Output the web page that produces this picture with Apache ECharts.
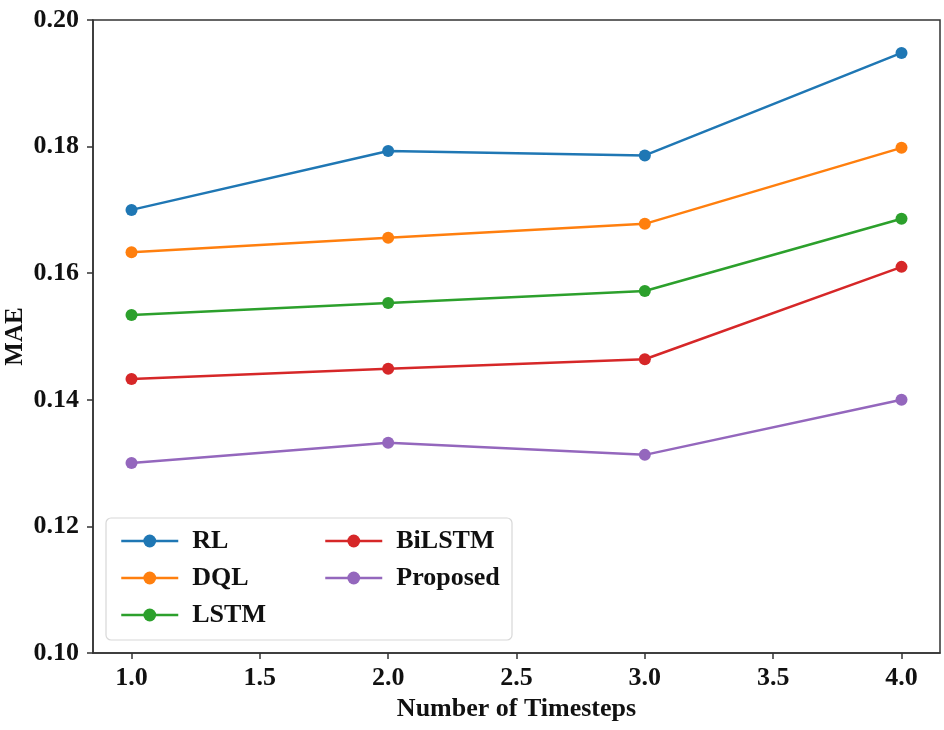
<!DOCTYPE html>
<html>
<head>
<meta charset="utf-8">
<script src="https://cdn.jsdelivr.net/npm/echarts@6/dist/echarts.min.js"></script>
<style>
html,body{margin:0;padding:0;background:#fff;}
#chart{width:944px;height:730px;}
</style>
</head>
<body>
<div id="chart"></div>
<script>
const timesteps = [1.0, 2.0, 3.0, 4.0];
const seriesNames = ['RL', 'DQL', 'LSTM', 'BiLSTM', 'Proposed'];
const rlValues = [0.1700, 0.1793, 0.1786, 0.1948];
const dqlValues = [0.1633, 0.1656, 0.1678, 0.1798];
const lstmValues = [0.1534, 0.1553, 0.1572, 0.1686];
const bilstmValues = [0.1433, 0.1449, 0.1464, 0.1610];
const proposedValues = [0.1300, 0.1332, 0.1313, 0.1400];
const xTickValues = [1.0, 1.5, 2.0, 2.5, 3.0, 3.5, 4.0];

const colors = ['#1f77b4', '#ff7f0e', '#2ca02c', '#d62728', '#9467bd'];
const allValues = [rlValues, dqlValues, lstmValues, bilstmValues, proposedValues];
const font = '"Liberation Serif", "Times New Roman", serif';

const chart = echarts.init(document.getElementById('chart'), null, {renderer: 'canvas'});

const series = seriesNames.map((name, i) => ({
  name: name,
  type: 'line',
  data: timesteps.map((t, j) => [t, allValues[i][j]]),
  symbol: 'circle',
  symbolSize: 12,
  lineStyle: {width: 2.5, color: colors[i]},
  itemStyle: {color: colors[i]},
  emphasis: {disabled: true},
  z: 3
}));

const legendCommon = {
  orient: 'vertical',
  itemWidth: 57,
  itemHeight: 16,
  itemGap: 11,
  lineStyle: {width: 2.5},
  textStyle: {fontFamily: font, fontWeight: 'bold', fontSize: 26, color: '#111', padding: [0, 0, 0, 9]},
  selectedMode: false
};

const option = {
  backgroundColor: '#fff',
  animation: false,
  color: colors,
  grid: {
    left: 93, right: 4, top: 20, bottom: 77,
    outerBoundsMode: 'none',
    containLabel: false,
    show: true, borderColor: '#333', borderWidth: 1.5, backgroundColor: 'transparent'
  },
  graphic: [{
    type: 'rect',
    shape: {x: 106, y: 518, width: 406, height: 122, r: 5},
    style: {fill: 'rgba(255,255,255,0.85)', stroke: '#d8d8d8', lineWidth: 1.2},
    z: 100
  }],
  legend: [
    Object.assign({}, legendCommon, {data: ['RL', 'DQL', 'LSTM'], left: 115, top: 523, z: 101}),
    Object.assign({}, legendCommon, {data: ['BiLSTM', 'Proposed'], left: 319, top: 523, z: 101})
  ],
  xAxis: {
    type: 'value',
    min: 0.85, max: 4.15,
    name: 'Number of Timesteps',
    nameLocation: 'middle',
    nameGap: 43,
    nameMoveOverlap: false,
    nameTextStyle: {fontFamily: font, fontWeight: 'bold', fontSize: 26, color: '#111'},
    axisLine: {show: true, lineStyle: {color: '#333', width: 1.5}},
    axisTick: {show: true, length: 6, lineStyle: {color: '#333', width: 1.5}, customValues: xTickValues},
    axisLabel: {
      customValues: xTickValues,
      formatter: v => v.toFixed(1),
      fontFamily: font, fontWeight: 'bold', fontSize: 26, color: '#111', margin: 12
    },
    splitLine: {show: false}
  },
  yAxis: {
    type: 'value',
    min: 0.10, max: 0.20, interval: 0.02,
    name: 'MAE',
    nameLocation: 'middle',
    nameGap: 65,
    nameMoveOverlap: false,
    nameTextStyle: {fontFamily: font, fontWeight: 'bold', fontSize: 25, color: '#111'},
    axisLine: {show: true, lineStyle: {color: '#333', width: 1.5}},
    axisTick: {show: true, length: 6, lineStyle: {color: '#333', width: 1.5}},
    axisLabel: {
      formatter: v => v.toFixed(2),
      fontFamily: font, fontWeight: 'bold', fontSize: 26, color: '#111', margin: 14
    },
    splitLine: {show: false}
  },
  series: series
};

chart.setOption(option);
</script>
</body>
</html>
